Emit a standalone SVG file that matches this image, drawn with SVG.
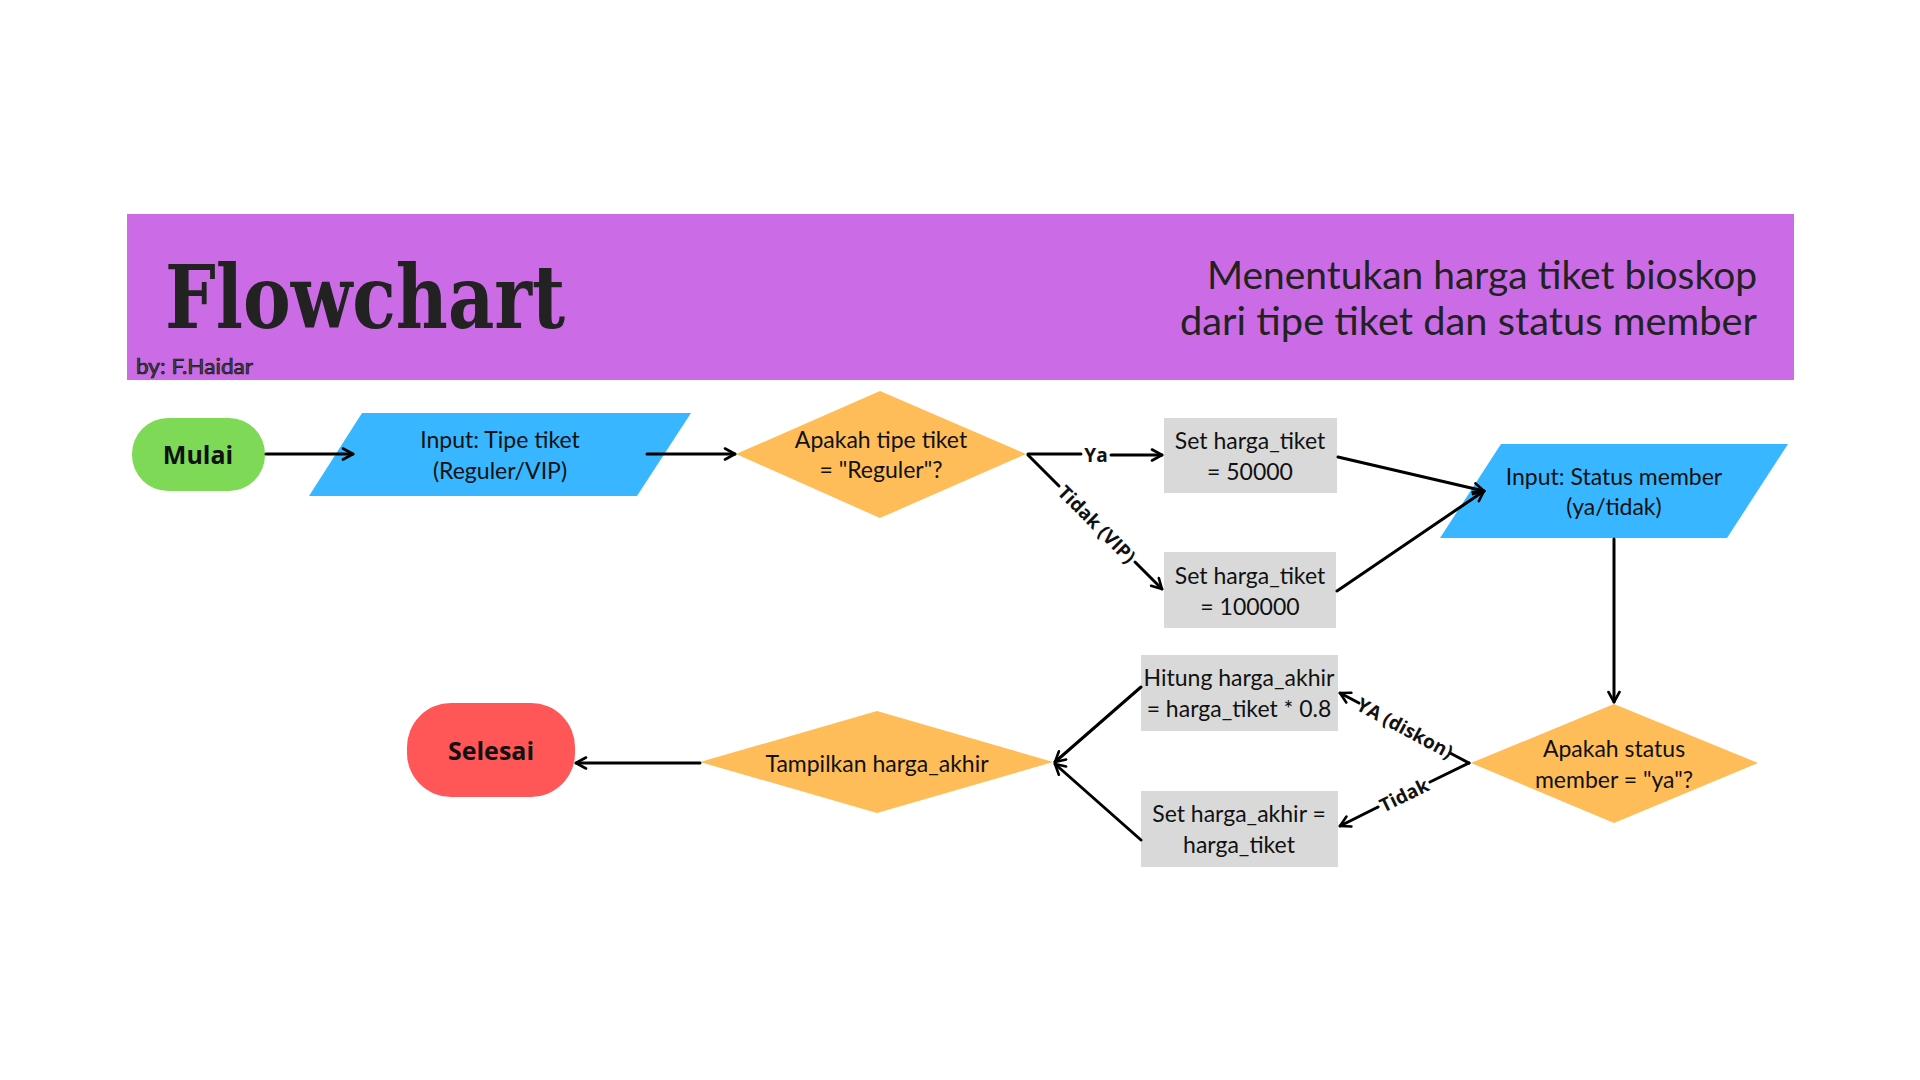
<svg xmlns="http://www.w3.org/2000/svg" width="1920" height="1080" viewBox="0 0 1920 1080">
<defs>
<marker id="arr" viewBox="0 0 14 14" refX="12" refY="7" markerWidth="14" markerHeight="14" orient="auto" markerUnits="userSpaceOnUse">
<path d="M2,1.5 L12,7 L2,12.5" fill="none" stroke="#000" stroke-width="2.6" stroke-linecap="round" stroke-linejoin="round"/>
</marker>
<style>
.t{font-family:Lato,"Open Sans","DejaVu Sans",sans-serif;font-size:23px;fill:#111;text-anchor:middle;dominant-baseline:central}
.b{font-family:"Open Sans",Lato,sans-serif;font-weight:700;font-size:25px;fill:#111;text-anchor:middle;dominant-baseline:central}
.lbl{font-family:"Open Sans",Lato,sans-serif;font-weight:700;font-size:19px;fill:#111;text-anchor:middle;dominant-baseline:central}
.c{fill:none;stroke:#000;stroke-width:3;stroke-linecap:round}
.ca{fill:none;stroke:#000;stroke-width:3;stroke-linecap:round;marker-end:url(#arr)}
.io{fill:#38B6FF}
.dec{fill:#FFBD59}
.proc{fill:#D9D9D9}
</style>
</defs>
<rect width="1920" height="1080" fill="#fff"/>
<g id="banner">
<rect x="127" y="214" width="1667" height="166" fill="#CB6CE6"/>
<text x="165" y="328" font-family="'DejaVu Serif','Liberation Serif',serif" font-weight="700" font-size="88" fill="#222" textLength="400" lengthAdjust="spacingAndGlyphs">Flowchart</text>
<text x="136" y="374" font-family="Lato,'Open Sans',sans-serif" font-size="22" fill="#444" stroke="#111" stroke-width="0.7" textLength="117" lengthAdjust="spacingAndGlyphs">by: F.Haidar</text>
<text x="1757" y="289" font-family="Lato,'Open Sans',sans-serif" font-size="39" fill="#222" text-anchor="end" textLength="550" lengthAdjust="spacingAndGlyphs">Menentukan harga tiket bioskop</text>
<text x="1757" y="335" font-family="Lato,'Open Sans',sans-serif" font-size="39" fill="#222" text-anchor="end" textLength="577" lengthAdjust="spacingAndGlyphs">dari tipe tiket dan status member</text>
</g>
<g id="mulai">
<rect x="132" y="418" width="133" height="73" rx="36" fill="#7ED957"/>
<text class="b" x="198" y="454">Mulai</text>
</g>
<g id="input-tipe">
<polygon class="io" points="362,413 691,413 637,496 309,496"/>
<text class="t" x="500" y="439">Input: Tipe tiket</text>
<text class="t" x="500" y="470">(Reguler/VIP)</text>
</g>
<g id="cek-tipe">
<polygon class="dec" points="880,391 1026,454 880,518 736,454"/>
<text class="t" x="881" y="439">Apakah tipe tiket</text>
<text class="t" x="881" y="469">= "Reguler"?</text>
</g>
<g id="set-50000">
<rect class="proc" x="1164" y="418" width="173" height="75"/>
<text class="t" x="1250" y="440">Set harga_tiket</text>
<text class="t" x="1250" y="471">= 50000</text>
</g>
<g id="set-100000">
<rect class="proc" x="1164" y="552" width="172" height="76"/>
<text class="t" x="1250" y="575">Set harga_tiket</text>
<text class="t" x="1250" y="606">= 100000</text>
</g>
<g id="input-member">
<polygon class="io" points="1501,444 1788,444 1727,538 1440,538"/>
<text class="t" x="1614" y="476">Input: Status member</text>
<text class="t" x="1614" y="506">(ya/tidak)</text>
</g>
<g id="cek-member">
<polygon class="dec" points="1614,704 1758,763 1614,823 1471,763"/>
<text class="t" x="1614" y="748">Apakah status</text>
<text class="t" x="1614" y="779">member = "ya"?</text>
</g>
<g id="hitung-diskon">
<rect class="proc" x="1141" y="655" width="197" height="76"/>
<text class="t" x="1239" y="677">Hitung harga_akhir</text>
<text class="t" x="1239" y="708">= harga_tiket * 0.8</text>
</g>
<g id="set-akhir">
<rect class="proc" x="1141" y="791" width="197" height="76"/>
<text class="t" x="1239" y="813">Set harga_akhir =</text>
<text class="t" x="1239" y="844">harga_tiket</text>
</g>
<g id="tampilkan">
<polygon class="dec" points="877,711 1053,762 877,813 700,762"/>
<text class="t" x="877" y="763">Tampilkan harga_akhir</text>
</g>
<g id="selesai">
<rect x="407" y="703" width="168" height="94" rx="44" fill="#FF5757"/>
<text class="b" x="491" y="750">Selesai</text>
</g>
<g id="connectors">
<line class="ca" x1="266" y1="454" x2="353" y2="454"/>
<line class="ca" x1="647" y1="454" x2="735" y2="454"/>
<line class="c" x1="1028" y1="454" x2="1081" y2="454"/>
<line class="ca" x1="1111" y1="455" x2="1162" y2="455"/>
<text class="lbl" x="1096" y="455">Ya</text>
<line class="c" x1="1028" y1="455" x2="1059" y2="486"/>
<line class="ca" x1="1135" y1="562" x2="1162" y2="589"/>
<text class="lbl" transform="translate(1097,524) rotate(45)">Tidak (VIP)</text>
<line class="ca" x1="1338" y1="457" x2="1484" y2="491"/>
<line class="ca" x1="1337" y1="591" x2="1484" y2="491"/>
<line class="ca" x1="1614" y1="539" x2="1614" y2="702"/>
<line class="c" x1="1469" y1="763" x2="1450" y2="753"/>
<line class="ca" x1="1359" y1="703" x2="1340" y2="693"/>
<text class="lbl" transform="translate(1405,728) rotate(28.3)">YA (diskon)</text>
<line class="c" x1="1469" y1="763" x2="1430" y2="782"/>
<line class="ca" x1="1378" y1="807" x2="1340" y2="826"/>
<text class="lbl" transform="translate(1404,795) rotate(-25.9)">Tidak</text>
<line class="ca" x1="1141" y1="687" x2="1055" y2="762"/>
<line class="ca" x1="1141" y1="840" x2="1055" y2="764"/>
<line class="ca" x1="700" y1="763" x2="576" y2="763"/>
</g>
</svg>
